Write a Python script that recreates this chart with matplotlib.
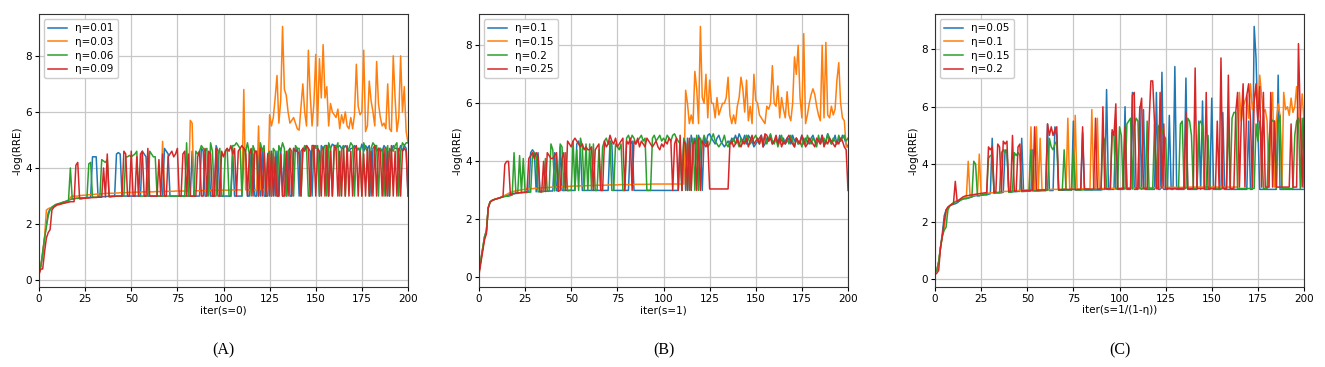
import numpy as np
import matplotlib
matplotlib.use("Agg")
import matplotlib.pyplot as plt

# ---------------- Panel A (s=0) ----------------
a_labels = ["η=0.01", "η=0.03", "η=0.06", "η=0.09"]
a_eta001 = [
    0.3, 0.5, 0.9, 1.5, 2.0, 2.4, 2.55, 2.6, 2.65, 2.68,
    2.7, 2.72, 2.75, 2.78, 2.8, 2.82, 2.85, 2.88, 2.9, 2.9,
    2.92, 2.92, 2.93, 2.93, 2.94, 2.94, 2.95, 2.95, 2.96, 4.4,
    4.4, 4.4, 2.97, 2.97, 2.98, 2.98, 2.98, 2.99, 2.99, 3.0,
    3.0, 3.0, 4.5, 4.55, 4.5, 3.0, 3.0, 3.0, 3.0, 3.0,
    3.0, 3.0, 3.0, 3.0, 3.0, 3.0, 4.6, 4.5, 4.4, 3.0,
    3.0, 3.0, 3.0, 3.0, 3.0, 3.0, 3.0, 3.0, 4.7, 4.6,
    4.5, 3.0, 3.0, 3.0, 3.0, 3.0, 3.0, 3.0, 3.0, 3.0,
    3.0, 3.0, 3.0, 4.6, 3.0, 3.0, 3.0, 3.0, 4.7, 4.6,
    3.0, 3.0, 4.5, 3.0, 3.0, 3.0, 4.8, 4.6, 3.0, 3.0,
    3.0, 3.0, 3.0, 3.0, 3.0, 4.6, 3.0, 3.0, 3.0, 3.0,
    3.0, 4.7, 4.5, 3.0, 3.0, 4.6, 4.5, 3.0, 3.0, 4.5,
    3.0, 4.7, 3.0, 3.0, 3.0, 4.5, 3.0, 4.5, 3.0, 4.6,
    3.0, 4.7, 3.0, 4.5, 3.0, 4.6, 3.0, 3.0, 4.7, 4.6,
    4.7, 3.0, 4.6, 4.7, 4.7, 4.8, 4.7, 4.6, 3.0, 4.7,
    4.8, 4.7, 3.0, 4.8, 4.7, 4.8, 4.8, 3.0, 4.7, 4.85,
    4.8, 4.8, 4.75, 4.8, 4.7, 4.7, 4.8, 4.7, 4.6, 4.7,
    4.7, 4.8, 4.7, 4.7, 4.6, 4.85, 4.6, 4.8, 4.7, 4.8,
    3.0, 4.7, 4.8, 4.6, 4.7, 4.7, 4.6, 4.8, 4.7, 3.0,
    4.7, 4.6, 4.8, 4.7, 4.7, 4.6, 4.8, 4.6, 4.8, 4.7,
    3.0]
a_eta003 = [
    0.3, 0.5, 1.0, 1.5, 2.5, 2.55, 2.58, 2.6, 2.62, 2.65,
    2.68, 2.7, 2.72, 2.74, 2.76, 2.78, 2.8, 2.95, 3.0, 3.0,
    3.0, 3.0, 3.02, 3.02, 3.03, 3.03, 3.04, 3.05, 3.05, 3.06,
    3.06, 3.07, 3.07, 3.08, 3.08, 3.09, 3.09, 3.1, 3.1, 3.1,
    3.1, 3.1, 3.11, 3.11, 3.12, 3.12, 3.12, 3.12, 3.13, 3.13,
    3.13, 3.13, 3.14, 3.14, 3.14, 3.14, 3.15, 3.15, 3.15, 3.15,
    3.15, 3.15, 3.15, 3.16, 3.16, 3.16, 3.16, 4.95, 3.16, 3.17,
    3.17, 3.17, 3.17, 3.17, 3.18, 3.18, 3.18, 3.18, 3.18, 3.18,
    3.18, 3.18, 5.7, 5.6, 3.19, 3.19, 3.19, 3.19, 3.19, 3.2,
    3.2, 3.2, 3.2, 3.2, 3.2, 3.2, 3.21, 3.21, 3.21, 3.21,
    3.21, 3.21, 3.21, 3.21, 3.22, 3.22, 3.22, 3.22, 3.22, 3.22,
    3.22, 6.8, 3.22, 3.22, 3.22, 3.22, 3.22, 3.22, 3.23, 5.5,
    3.23, 3.23, 3.23, 3.23, 3.23, 5.9, 5.5, 5.8, 6.5, 7.3,
    5.6, 6.4, 9.05, 6.8, 6.6, 6.0, 5.6, 5.7, 5.8, 5.6,
    5.4, 5.35, 6.2, 7.0, 6.0, 5.5, 8.2, 6.6, 5.5, 6.3,
    8.05, 5.5, 7.9, 6.5, 8.4, 6.5, 6.9, 5.5, 6.3, 6.0,
    5.9, 5.8, 6.1, 5.4, 5.9, 5.6, 6.0, 5.5, 5.4, 5.8,
    5.4, 5.9, 7.7, 6.2, 5.9, 6.0, 8.2, 5.3, 5.5, 7.1,
    6.4, 6.0, 5.5, 7.8, 6.3, 5.8, 5.5, 5.6, 5.4, 7.0,
    5.4, 5.3, 8.0, 6.5, 5.3, 5.8, 8.0, 6.0, 6.9, 5.3,
    4.9]
a_eta006 = [
    0.3, 0.5, 1.0, 1.5, 1.9, 2.3, 2.5, 2.6, 2.65, 2.7,
    2.72, 2.74, 2.76, 2.78, 2.8, 2.82, 2.85, 4.0, 2.9, 2.9,
    2.92, 2.92, 2.93, 2.93, 2.94, 2.94, 2.95, 4.15, 4.2, 2.95,
    2.96, 2.96, 2.96, 2.97, 4.3, 4.25, 4.2, 4.3, 2.98, 2.98,
    2.99, 2.99, 3.0, 3.0, 3.0, 3.0, 3.0, 4.4, 4.4, 4.45,
    4.4, 4.45, 4.5, 4.6, 3.0, 3.0, 3.0, 3.0, 3.0, 3.0,
    4.6, 4.5, 4.4, 4.4, 3.0, 3.0, 3.0, 3.0, 3.0, 3.0,
    3.0, 3.0, 3.0, 3.0, 3.0, 3.0, 3.0, 3.0, 3.0, 3.0,
    4.9, 3.0, 3.0, 3.0, 3.0, 4.6, 4.5, 4.6, 4.8, 4.7,
    4.6, 4.7, 3.0, 4.9, 4.6, 3.0, 3.0, 4.5, 4.7, 3.0,
    3.0, 4.6, 4.7, 3.0, 3.0, 4.8, 4.8, 4.9, 4.8, 4.7,
    3.0, 4.7, 4.6, 4.9, 4.5, 3.0, 4.8, 4.6, 4.5, 3.0,
    4.9, 4.6, 4.8, 3.0, 4.5, 4.6, 3.0, 4.7, 4.6, 3.0,
    4.8, 4.6, 4.9, 4.7, 3.0, 4.6, 4.7, 4.6, 3.0, 4.8,
    4.7, 4.7, 3.0, 4.6, 4.8, 4.7, 3.0, 3.0, 4.6, 4.8,
    4.7, 4.8, 3.0, 4.6, 4.7, 4.8, 3.0, 4.9, 4.7, 3.0,
    4.6, 4.7, 4.9, 3.0, 4.7, 4.8, 3.0, 4.6, 4.7, 4.9,
    4.8, 3.0, 4.6, 4.7, 4.7, 3.0, 4.9, 4.7, 4.6, 3.0,
    4.7, 4.9, 4.8, 4.8, 3.0, 4.7, 4.6, 3.0, 4.6, 4.8,
    3.0, 4.7, 4.6, 4.8, 4.9, 3.0, 4.6, 4.9, 4.8, 4.9,
    4.9]
a_eta009 = [
    0.2, 0.4, 0.4, 1.0, 1.5, 1.7, 1.8, 2.5, 2.6, 2.65,
    2.7, 2.7, 2.72, 2.74, 2.75, 2.77, 2.78, 2.8, 2.8, 2.8,
    4.1, 4.2, 2.9, 2.9, 2.92, 2.92, 2.93, 2.93, 2.94, 2.95,
    2.95, 2.95, 2.96, 2.96, 2.96, 4.0, 2.97, 4.5, 2.98, 2.98,
    2.99, 2.99, 3.0, 3.0, 3.0, 3.0, 4.6, 4.5, 3.0, 3.0,
    4.6, 3.0, 3.0, 4.4, 3.0, 4.5, 4.6, 3.0, 3.0, 4.7,
    3.0, 3.0, 3.0, 3.0, 3.0, 4.3, 3.0, 4.5, 3.0, 3.0,
    4.4, 4.5, 4.6, 4.4, 4.5, 4.7, 3.0, 3.0, 4.5, 4.6,
    3.0, 4.5, 3.0, 3.0, 3.0, 3.0, 4.4, 4.6, 3.0, 3.0,
    4.7, 3.0, 4.6, 4.5, 3.0, 3.0, 4.7, 3.0, 3.0, 4.6,
    4.4, 4.6, 4.7, 4.6, 4.8, 4.5, 4.7, 3.0, 4.6, 4.7,
    4.8, 4.7, 4.6, 3.0, 4.5, 4.7, 3.0, 4.6, 4.6, 3.0,
    4.7, 3.0, 4.6, 3.0, 4.5, 3.0, 4.6, 3.0, 4.4, 3.0,
    3.0, 4.5, 3.0, 3.0, 4.6, 3.0, 4.7, 3.0, 4.7, 4.6,
    4.6, 4.5, 3.0, 4.7, 4.6, 4.8, 4.7, 3.0, 4.8, 4.8,
    3.0, 4.7, 4.6, 3.0, 4.7, 3.0, 4.8, 3.0, 4.6, 3.0,
    4.8, 4.7, 3.0, 4.6, 3.0, 4.7, 3.0, 4.8, 3.0, 4.6,
    3.0, 4.7, 4.8, 3.0, 4.6, 3.0, 4.5, 3.0, 4.7, 3.0,
    4.6, 3.0, 4.8, 3.0, 4.7, 4.6, 3.0, 4.7, 3.0, 4.6,
    3.0, 4.8, 3.0, 4.6, 3.0, 4.7, 3.0, 4.6, 4.7, 4.6,
    3.0]

# ---------------- Panel B (s=1) ----------------
b_labels = ["η=0.1", "η=0.15", "η=0.2", "η=0.25"]
b_eta010 = [
    0.2, 0.6, 1.0, 1.4, 1.6, 2.4, 2.6, 2.65, 2.68, 2.7,
    2.72, 2.74, 2.76, 2.78, 2.8, 2.82, 2.84, 2.86, 2.88, 2.88,
    2.9, 2.9, 2.92, 2.92, 2.93, 2.93, 2.94, 2.94, 4.3, 4.4,
    4.3, 2.95, 4.3, 2.96, 2.96, 2.97, 2.97, 2.97, 2.98, 2.98,
    2.98, 4.3, 2.99, 2.99, 4.5, 3.0, 3.0, 3.0, 3.0, 3.0,
    3.0, 3.0, 3.0, 4.6, 4.7, 4.4, 3.0, 3.0, 3.0, 3.0,
    3.0, 3.0, 3.0, 3.0, 3.0, 3.0, 3.0, 3.0, 3.0, 3.0,
    3.0, 4.7, 4.6, 3.0, 3.0, 3.0, 3.0, 3.0, 3.0, 3.0,
    3.0, 3.0, 4.6, 4.7, 3.0, 3.0, 3.0, 3.0, 3.0, 3.0,
    3.0, 3.0, 3.0, 3.0, 3.0, 3.0, 3.0, 3.0, 3.0, 3.0,
    3.0, 3.0, 3.0, 3.0, 3.0, 3.0, 3.0, 3.0, 3.0, 4.6,
    3.0, 4.7, 3.0, 4.8, 3.0, 4.9, 4.6, 4.8, 4.5, 4.9,
    4.7, 3.0, 4.8, 4.6, 4.9, 4.95, 4.8, 4.7, 4.6, 4.8,
    4.9, 4.7, 4.6, 4.5, 4.6, 4.7, 4.6, 4.8, 4.7, 4.9,
    4.7, 4.95, 4.8, 4.7, 4.9, 4.6, 4.9, 4.8, 4.7, 4.5,
    4.6, 4.7, 4.8, 4.9, 4.5, 4.6, 4.8, 4.7, 4.9, 4.6,
    4.7, 4.8, 4.6, 4.9, 4.7, 4.8, 4.6, 4.7, 4.8, 4.6,
    4.9, 4.7, 4.8, 4.6, 4.7, 4.9, 4.6, 4.8, 4.7, 4.6,
    4.8, 4.9, 4.7, 4.6, 4.8, 4.7, 4.9, 4.6, 4.7, 4.95,
    4.8, 4.6, 4.7, 4.9, 4.6, 4.8, 4.7, 4.9, 4.8, 4.6,
    4.5]
b_eta015 = [
    0.2, 0.6, 1.0, 1.4, 1.6, 2.4, 2.6, 2.65, 2.68, 2.7,
    2.72, 2.74, 2.77, 2.8, 2.83, 2.86, 2.9, 2.92, 2.95, 2.97,
    2.99, 3.0, 3.01, 3.02, 3.03, 3.04, 3.05, 3.05, 3.06, 3.06,
    3.07, 3.07, 3.08, 3.08, 3.09, 3.09, 3.1, 3.1, 3.1, 3.11,
    3.11, 3.11, 3.12, 3.12, 3.12, 3.13, 3.13, 3.13, 3.14, 3.14,
    3.14, 3.15, 3.15, 3.15, 3.15, 3.16, 3.16, 3.16, 3.16, 3.17,
    3.17, 3.17, 3.17, 3.17, 3.18, 3.18, 3.18, 3.18, 3.18, 3.18,
    3.19, 3.19, 3.19, 3.19, 3.19, 3.19, 3.2, 3.2, 3.2, 3.2,
    3.2, 3.2, 3.2, 3.2, 3.21, 3.21, 3.21, 3.21, 3.21, 3.21,
    3.21, 3.21, 3.21, 3.22, 3.22, 3.22, 3.22, 3.22, 3.22, 3.22,
    3.22, 3.22, 3.22, 3.22, 3.22, 3.22, 3.22, 3.22, 3.22, 3.22,
    3.22, 3.22, 6.45, 6.0, 5.3, 5.6, 5.3, 7.1, 6.5, 5.3,
    8.65, 6.2, 6.0, 7.0, 5.5, 6.8, 6.0, 6.0, 5.5, 6.2,
    5.6, 5.8, 6.0, 6.0, 6.2, 6.9, 5.6, 5.3, 5.6, 5.3,
    5.9, 6.2, 6.9, 6.5, 5.7, 6.8, 5.4, 5.9, 5.3, 7.0,
    6.1, 6.0, 5.6, 5.5, 5.4, 5.3, 5.9, 5.8, 6.0, 7.3,
    6.0, 5.9, 6.6, 5.5, 6.2, 5.8, 5.5, 6.4, 5.6, 5.4,
    6.0, 7.6, 7.0, 8.0, 6.2, 5.5, 8.4, 5.3, 5.6, 6.0,
    6.3, 6.5, 6.3, 5.9, 5.6, 5.4, 8.0, 5.5, 8.1, 5.6,
    5.5, 5.9, 5.6, 5.8, 6.8, 7.4, 6.0, 5.5, 5.4, 4.5,
    4.5]
b_eta020 = [
    0.2, 0.6, 1.0, 1.4, 1.6, 2.4, 2.6, 2.65, 2.68, 2.7,
    2.72, 2.74, 2.76, 2.78, 2.79, 2.8, 2.8, 2.82, 2.84, 4.3,
    2.9, 2.9, 4.2, 2.92, 4.1, 2.93, 2.93, 2.94, 2.94, 4.2,
    4.3, 4.2, 2.95, 2.96, 2.96, 2.96, 4.1, 2.97, 2.97, 4.6,
    4.4, 2.98, 4.2, 2.98, 4.6, 4.5, 2.99, 4.3, 2.99, 3.0,
    3.0, 4.7, 3.0, 4.4, 3.0, 4.8, 4.5, 3.0, 4.6, 3.0,
    4.6, 3.0, 4.6, 3.0, 3.0, 4.4, 3.0, 4.5, 4.7, 4.8,
    4.6, 4.7, 3.0, 3.0, 4.6, 4.5, 4.4, 4.6, 3.0, 3.0,
    4.8, 4.9, 4.7, 4.9, 4.8, 4.6, 4.7, 4.8, 4.9, 4.7,
    4.8, 3.0, 3.0, 3.0, 4.8, 4.9, 4.7, 4.8, 4.9, 4.7,
    4.8, 4.7, 4.9, 4.8, 4.7, 4.9, 4.95, 4.8, 4.7, 4.6,
    3.0, 4.8, 4.6, 3.0, 4.7, 3.0, 4.8, 3.0, 4.9, 3.0,
    4.8, 4.6, 4.9, 4.7, 4.5, 4.6, 4.8, 4.95, 4.7, 4.6,
    4.5, 4.6, 4.7, 4.9, 4.6, 4.5, 4.7, 4.6, 4.8, 4.6,
    4.7, 4.5, 4.8, 4.6, 4.7, 4.9, 4.8, 4.6, 4.7, 4.8,
    4.9, 4.7, 4.6, 4.8, 4.7, 4.9, 4.6, 4.8, 4.95, 4.7,
    4.6, 4.8, 4.5, 4.7, 4.9, 4.6, 4.7, 4.8, 4.6, 4.9,
    4.7, 4.5, 4.8, 4.6, 4.7, 4.5, 4.8, 4.6, 4.9, 4.7,
    4.6, 4.8, 4.7, 4.5, 4.9, 4.6, 4.7, 4.8, 4.6, 4.95,
    4.7, 4.6, 4.8, 4.7, 4.6, 4.9, 4.7, 4.8, 4.9, 4.7,
    4.8]
b_eta025 = [
    0.1, 0.5, 0.9, 1.3, 1.5, 2.4, 2.6, 2.65, 2.68, 2.7,
    2.72, 2.74, 2.76, 2.78, 3.9, 4.0, 4.0, 2.85, 2.88, 2.9,
    2.9, 2.92, 2.92, 2.93, 2.93, 2.94, 2.94, 4.1, 4.2, 4.3,
    4.1, 4.3, 4.2, 2.95, 2.95, 4.0, 2.96, 4.3, 4.2, 4.1,
    4.1, 4.2, 4.3, 2.97, 3.0, 4.1, 4.3, 3.0, 4.7, 4.6,
    4.5, 4.7, 4.8, 4.7, 4.6, 4.5, 4.6, 4.4, 4.5, 4.4,
    4.4, 4.5, 3.0, 4.4, 4.5, 4.6, 3.0, 3.0, 4.7, 4.5,
    4.6, 4.9, 4.7, 4.6, 4.8, 4.5, 4.6, 4.7, 4.8, 3.0,
    4.7, 4.6, 4.8, 3.0, 4.7, 4.6, 4.8, 4.5, 4.7, 4.6,
    4.5, 4.8, 4.7, 4.6, 4.5, 4.6, 4.7, 4.5, 4.4, 4.6,
    4.5, 4.7, 4.6, 4.8, 4.7, 3.0, 4.6, 4.8, 3.0, 4.9,
    3.0, 4.7, 4.6, 3.0, 4.8, 3.0, 4.6, 4.7, 3.0, 4.8,
    3.0, 4.7, 4.6, 4.5, 4.7, 3.05, 3.05, 3.05, 3.05, 3.05,
    3.05, 3.05, 3.05, 3.05, 3.05, 3.05, 4.6, 4.7, 4.5, 4.6,
    4.8, 4.6, 4.5, 4.7, 4.6, 4.8, 4.5, 4.7, 4.9, 4.6,
    4.7, 4.8, 4.6, 4.9, 4.5, 4.95, 4.9, 4.7, 4.8, 4.6,
    4.7, 4.9, 4.6, 4.8, 4.5, 4.7, 4.6, 4.8, 4.9, 4.7,
    4.6, 4.5, 4.8, 4.7, 4.6, 4.9, 4.7, 4.5, 4.6, 4.8,
    4.7, 4.6, 4.5, 4.8, 4.7, 4.6, 4.9, 4.5, 4.7, 4.6,
    4.8, 4.7, 4.6, 4.5, 4.7, 4.6, 4.8, 4.7, 4.5, 4.4,
    3.0]

# ---------------- Panel C (s=1/(1-eta)) ----------------
c_labels = ["η=0.05", "η=0.1", "η=0.15", "η=0.2"]
c_eta005 = [
    0.3, 0.3, 0.6, 1.1, 1.6, 2.2, 2.4, 2.5, 2.55, 2.58,
    2.6, 2.62, 2.65, 2.7, 2.75, 2.78, 2.8, 2.8, 2.82, 2.84,
    2.86, 2.88, 2.9, 2.9, 2.9, 2.92, 2.92, 2.93, 2.93, 2.95,
    2.97, 4.9, 3.0, 3.0, 3.0, 3.0, 3.0, 3.02, 4.5, 4.4,
    3.03, 3.03, 3.04, 3.04, 3.04, 3.05, 3.05, 4.9, 3.05, 3.06,
    3.06, 3.06, 3.06, 4.5, 3.07, 3.07, 3.07, 3.07, 3.08, 3.08,
    3.08, 5.4, 3.08, 3.08, 3.08, 5.3, 5.0, 3.09, 3.09, 3.09,
    3.09, 3.1, 3.1, 3.1, 3.1, 5.5, 3.1, 3.1, 3.1, 3.1,
    5.1, 3.1, 3.1, 3.1, 3.1, 3.1, 3.1, 3.1, 3.1, 3.1,
    3.1, 3.12, 3.12, 6.6, 3.12, 3.12, 3.12, 3.12, 5.4, 3.12,
    3.12, 3.12, 3.12, 6.0, 3.12, 3.12, 3.12, 6.5, 3.12, 3.12,
    3.12, 6.0, 3.12, 5.9, 3.12, 3.12, 3.12, 3.12, 3.12, 3.12,
    6.5, 3.12, 3.12, 7.2, 3.12, 3.12, 3.12, 5.7, 3.12, 3.12,
    7.4, 3.12, 3.12, 3.12, 3.12, 3.12, 7.0, 3.12, 3.12, 3.12,
    3.12, 3.12, 3.12, 5.5, 3.12, 6.2, 3.12, 3.12, 3.12, 3.12,
    6.3, 3.12, 3.12, 3.12, 3.12, 3.12, 5.8, 3.12, 3.12, 3.12,
    3.12, 3.12, 3.12, 3.12, 3.12, 3.12, 3.12, 3.12, 3.12, 3.12,
    5.5, 3.12, 3.12, 8.8, 7.7, 5.3, 3.12, 3.12, 3.12, 3.12,
    3.12, 3.12, 3.12, 3.12, 3.12, 3.12, 7.1, 3.12, 3.12, 3.12,
    3.12, 3.12, 3.12, 3.12, 3.12, 3.12, 3.12, 3.12, 3.12, 3.12,
    3.12]
c_eta010 = [
    0.3, 0.3, 0.6, 1.1, 1.5, 1.8, 2.3, 2.5, 2.55, 2.6,
    2.65, 2.7, 2.72, 2.75, 2.78, 2.8, 2.82, 2.85, 4.1, 2.88,
    2.9, 2.9, 2.92, 2.93, 4.35, 2.95, 2.96, 2.97, 2.98, 2.99,
    3.0, 3.0, 3.01, 3.02, 3.02, 3.03, 3.04, 3.04, 3.05, 3.05,
    3.06, 3.06, 3.07, 3.07, 3.08, 3.08, 3.08, 3.09, 3.09, 3.09,
    3.1, 3.1, 5.3, 3.1, 3.1, 5.3, 3.1, 4.9, 3.11, 3.11,
    3.11, 3.11, 3.11, 3.12, 3.12, 3.12, 3.12, 3.12, 3.12, 3.12,
    3.13, 3.13, 5.6, 3.13, 3.13, 3.13, 5.7, 3.13, 3.13, 3.14,
    3.14, 3.14, 3.14, 3.14, 3.14, 5.9, 3.14, 3.15, 5.6, 3.15,
    3.15, 3.15, 3.15, 3.15, 3.15, 3.15, 3.16, 3.16, 3.16, 3.16,
    3.16, 3.16, 3.17, 3.17, 3.17, 3.17, 3.17, 3.17, 3.17, 3.17,
    3.18, 3.18, 3.18, 3.18, 3.18, 3.18, 3.18, 3.18, 3.18, 3.18,
    3.18, 3.18, 3.19, 3.19, 3.19, 3.19, 3.19, 3.19, 3.19, 3.19,
    3.19, 3.19, 3.19, 3.19, 3.19, 3.19, 3.19, 3.19, 3.2, 3.2,
    3.2, 3.2, 3.2, 3.2, 3.2, 3.2, 3.2, 3.2, 3.2, 3.2,
    3.2, 3.2, 3.2, 3.2, 3.2, 3.2, 3.2, 3.2, 3.2, 3.2,
    3.2, 3.2, 3.2, 3.2, 3.2, 6.5, 5.5, 6.0, 6.2, 6.4,
    5.6, 6.8, 5.9, 6.3, 6.6, 5.7, 7.1, 6.4, 5.8, 5.9,
    5.5, 3.2, 5.6, 6.5, 3.2, 5.5, 6.1, 5.7, 3.2, 6.5,
    5.9, 6.0, 5.7, 6.3, 5.8, 6.0, 6.7, 5.4, 5.6, 6.45,
    5.5]
c_eta015 = [
    0.2, 0.3, 0.6, 1.1, 1.5, 1.7, 1.8, 2.4, 2.55, 2.6,
    2.65, 2.68, 2.7, 2.72, 2.75, 2.78, 2.8, 2.8, 2.82, 2.84,
    2.86, 4.1, 4.0, 2.9, 2.9, 2.92, 2.93, 2.94, 2.94, 4.2,
    4.3, 4.3, 2.98, 3.0, 3.0, 3.0, 4.4, 4.5, 4.4, 4.5,
    3.02, 3.02, 3.03, 4.4, 4.3, 4.4, 4.3, 3.04, 3.05, 3.05,
    3.06, 3.06, 4.5, 3.06, 3.07, 3.07, 3.07, 3.08, 3.08, 3.08,
    3.08, 3.09, 4.9, 4.6, 4.5, 4.7, 4.8, 3.09, 3.09, 3.1,
    4.5, 3.1, 3.1, 3.1, 3.1, 4.5, 3.1, 3.1, 3.1, 3.1,
    3.1, 3.11, 3.11, 3.11, 3.11, 3.11, 3.12, 3.12, 3.12, 3.12,
    3.12, 5.0, 4.8, 3.12, 3.12, 3.12, 5.1, 5.0, 3.13, 3.13,
    5.3, 5.0, 3.13, 3.13, 5.4, 5.5, 5.6, 3.13, 5.3, 5.6,
    5.5, 3.14, 3.14, 3.14, 3.14, 5.5, 3.14, 3.14, 3.14, 5.4,
    3.14, 5.3, 5.4, 5.2, 5.0, 4.9, 3.14, 3.14, 3.14, 3.14,
    3.14, 3.14, 3.15, 5.4, 5.5, 3.15, 3.15, 5.6, 5.5, 5.0,
    3.15, 3.15, 3.15, 5.4, 5.5, 5.3, 3.15, 3.15, 5.0, 3.15,
    3.15, 3.15, 3.15, 3.15, 3.15, 3.15, 3.15, 3.15, 3.15, 5.7,
    3.15, 5.6, 5.8, 5.8, 3.15, 3.15, 3.15, 3.15, 3.15, 3.15,
    3.15, 3.15, 3.15, 3.15, 5.4, 4.8, 5.5, 5.0, 3.15, 3.15,
    3.15, 4.8, 5.6, 5.5, 5.5, 3.15, 5.4, 5.7, 3.15, 3.15,
    3.15, 3.15, 3.15, 3.15, 3.15, 5.0, 5.5, 5.6, 3.15, 5.6,
    3.2]
c_eta020 = [
    0.15, 0.2, 0.3, 1.1, 1.5, 2.0, 2.4, 2.5, 2.55, 2.6,
    2.62, 3.4, 2.7, 2.75, 2.8, 2.85, 2.88, 2.9, 2.9, 2.92,
    2.93, 2.94, 2.95, 2.96, 2.97, 2.98, 2.99, 3.0, 3.0, 4.6,
    4.5, 4.6, 3.02, 3.03, 4.7, 4.6, 3.04, 4.8, 4.7, 4.8,
    3.05, 3.05, 5.0, 3.06, 3.06, 4.6, 4.7, 3.07, 3.07, 3.08,
    3.08, 3.08, 3.09, 3.09, 5.3, 3.1, 3.1, 3.1, 3.1, 3.1,
    3.1, 5.4, 5.0, 5.3, 5.0, 5.2, 5.3, 3.11, 3.11, 3.11,
    3.12, 3.12, 3.12, 3.12, 3.12, 3.12, 3.12, 3.12, 3.12, 3.12,
    5.3, 3.13, 3.13, 3.13, 3.13, 3.13, 3.13, 5.6, 3.13, 3.13,
    3.14, 6.0, 3.14, 3.14, 3.14, 3.14, 5.2, 5.0, 6.1, 3.14,
    3.14, 3.15, 3.15, 5.3, 3.15, 3.15, 3.15, 6.4, 6.5, 3.15,
    3.15, 5.9, 6.3, 3.15, 3.15, 3.15, 5.4, 6.9, 6.9, 5.4,
    3.15, 3.15, 6.5, 3.15, 5.4, 3.15, 3.15, 3.15, 3.15, 3.15,
    3.15, 3.15, 3.15, 3.15, 3.15, 3.15, 5.8, 3.15, 3.15, 3.15,
    3.15, 7.35, 3.15, 3.15, 3.15, 3.15, 3.15, 6.5, 3.15, 3.15,
    3.15, 3.15, 3.15, 5.5, 3.15, 7.7, 3.15, 3.15, 3.15, 7.1,
    3.15, 3.15, 3.15, 5.8, 6.5, 3.2, 5.5, 6.8, 3.2, 6.4,
    6.8, 5.5, 3.2, 6.2, 6.8, 5.5, 6.7, 3.2, 6.5, 3.2,
    3.2, 3.2, 6.5, 3.2, 5.5, 3.2, 3.2, 3.2, 3.2, 3.2,
    3.2, 3.2, 3.2, 5.4, 3.2, 3.2, 3.2, 8.2, 5.6, 3.2,
    5.6]

panels = [
    ("iter(s=0)", "(A)", a_labels, [a_eta001, a_eta003, a_eta006, a_eta009]),
    ("iter(s=1)", "(B)", b_labels, [b_eta010, b_eta015, b_eta020, b_eta025]),
    ("iter(s=1/(1-η))", "(C)", c_labels, [c_eta005, c_eta010, c_eta015, c_eta020]),
]

W, H = 1325, 367
fig = plt.figure(figsize=(W / 100, H / 100), dpi=100)
lefts = [39, 479, 935]
ax_w = 369
ax_bottom, ax_top = 287, 14
colors = ["#1f77b4", "#ff7f0e", "#2ca02c", "#d62728"]

for left, (xl, tag, labels, series) in zip(lefts, panels):
    ax = fig.add_axes([left / W, (H - ax_bottom) / H, ax_w / W, (ax_bottom - ax_top) / H])
    for vals, lab, col in zip(series, labels, colors):
        x = np.arange(len(vals))
        ax.plot(x, vals, color=col, lw=1.1, label=lab)
    ax.set_xlim(0, 200)
    ax.set_xticks([0, 25, 50, 75, 100, 125, 150, 175, 200])
    ax.set_yticks([0, 2, 4, 6, 8])
    ax.grid(True, color="#c8c8c8", lw=0.9)
    ax.tick_params(labelsize=7.5, length=3, width=0.8, pad=2)
    ax.set_xlabel(xl, fontsize=7.5, labelpad=1)
    ax.set_ylabel("-log(RRE)", fontsize=7.5, labelpad=2)
    for sp in ax.spines.values():
        sp.set_color("#333333")
        sp.set_linewidth(0.8)
    ax.legend(loc="upper left", fontsize=7.5, handlelength=1.8, labelspacing=0.35,
              borderpad=0.4, handletextpad=0.8, framealpha=1, edgecolor="#cccccc")
    fig.text((left + ax_w / 2) / W, 1 - 350 / H, tag, ha="center", va="center",
             fontsize=11.5, family="Liberation Serif")

fig.savefig("out.png", dpi=100)
